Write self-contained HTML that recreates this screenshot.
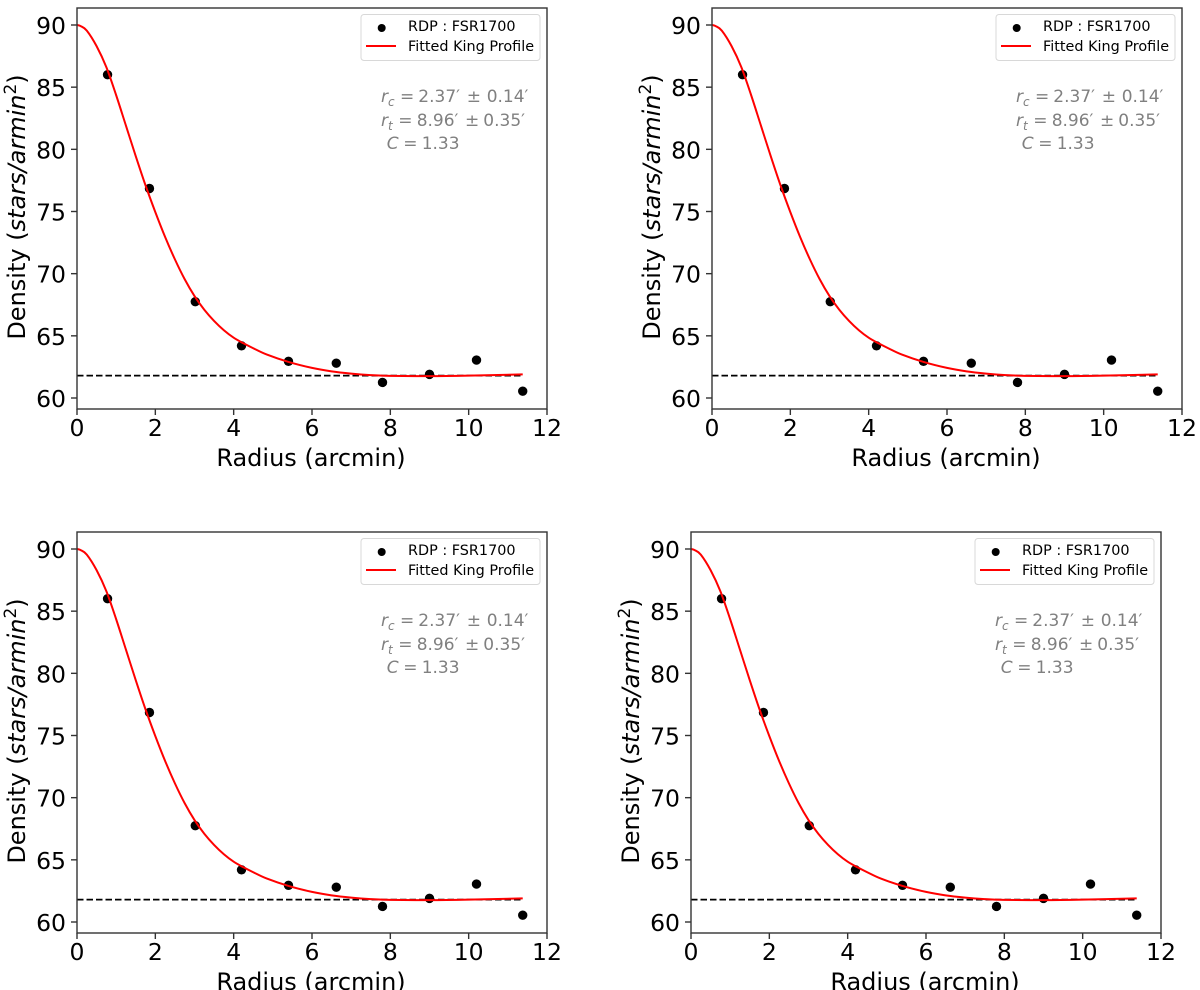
<!DOCTYPE html>
<html>
<head>
<meta charset="utf-8">
<style>
html,body{margin:0;padding:0;background:#fff;width:1200px;height:990px;overflow:hidden}
svg{display:block}
text{font-family:"DejaVu Sans","Liberation Sans",sans-serif}
</style>
</head>
<body>
<svg id="figure" xmlns="http://www.w3.org/2000/svg" width="1200" height="990" viewBox="0 0 1200 990"></svg>
<script>
const radiusPoints = [0.78, 1.85, 3.02, 4.2, 5.4, 6.62, 7.8, 9.0, 10.2, 11.38];
const densityPoints = [86.0, 76.85, 67.75, 64.2, 62.95, 62.8, 61.25, 61.9, 63.05, 60.55];
const fitRadius = [0, 0.1, 0.25, 0.5, 0.75, 1.0, 1.25, 1.5, 1.75, 2.0, 2.25, 2.5, 2.75, 3.0, 3.25, 3.5, 3.75, 4.0, 4.25, 4.5, 4.84, 5.4, 6.0, 6.5, 7.0, 7.5, 8.0, 9.0, 10.0, 11.38];
const fitDensity = [90, 89.9, 89.55, 88.3, 86.6, 84.35, 81.9, 79.45, 77.1, 74.95, 72.95, 71.15, 69.55, 68.2, 67.1, 66.2, 65.45, 64.85, 64.4, 64.0, 63.5, 62.9, 62.42, 62.14, 61.96, 61.84, 61.78, 61.76, 61.8, 61.9];
const backgroundDensity = 61.8;
const backgroundRange = [0, 11.4];
const xTicks = [0, 2, 4, 6, 8, 10, 12];
const yTicks = [60, 65, 70, 75, 80, 85, 90];
const xDomain = [0, 12];
const yAnchor = [60, 90];
const legendLabels = ['RDP : FSR1700', 'Fitted King Profile'];
const panelNames = ['top-left', 'top-right', 'bottom-left', 'bottom-right'];

const panelLeft = [77, 712, 77, 691];
const panelTop = [8, 8, 532, 532];
const PW = 470, PH = 401;
const Y60 = 390, Y90 = 17;   // offset from panel top
const NS = 'http://www.w3.org/2000/svg';
const svg = document.getElementById('figure');

function mk(tag, attrs, parent, txt) {
  const e = document.createElementNS(NS, tag);
  for (const k in attrs) e.setAttribute(k, attrs[k]);
  if (txt !== undefined) e.textContent = txt;
  parent.appendChild(e);
  return e;
}

function drawPanel(i) {
  const L = panelLeft[i], T = panelTop[i];
  const X = v => L + (v - xDomain[0]) / (xDomain[1] - xDomain[0]) * PW;
  const Y = v => T + Y60 + (v - yAnchor[0]) / (yAnchor[1] - yAnchor[0]) * (Y90 - Y60);

  const g = mk('g', {}, svg);
  
  

  // x ticks
  xTicks.forEach(t => {
    const tick = mk('line', {x1: X(t), x2: X(t), y1: T + PH, y2: T + PH + 6, stroke: '#333', 'stroke-width': 1.4}, g);
    
    
    const lab = mk('text', {x: X(t), y: T + 428, 'text-anchor': 'middle', 'font-size': 23.5, fill: '#000'}, g, String(t));
    
    
  });
  // y ticks
  yTicks.forEach(t => {
    const tick = mk('line', {x1: L - 6, x2: L, y1: Y(t), y2: Y(t), stroke: '#333', 'stroke-width': 1.4}, g);
    
    
    const lab = mk('text', {x: L - 11, y: Y(t) + 9, 'text-anchor': 'end', 'font-size': 23.5, fill: '#000'}, g, String(t));
    
    
  });

  // background dashed line
  const bg = mk('line', {x1: X(backgroundRange[0]), x2: X(backgroundRange[1]), y1: Y(backgroundDensity), y2: Y(backgroundDensity), stroke: '#000', 'stroke-width': 1.8, 'stroke-dasharray': '6.5 3'}, g);
  
  

  // points
  radiusPoints.forEach((r, k) => {
    const c = mk('circle', {cx: X(r), cy: Y(densityPoints[k]), r: 4.7, fill: '#000'}, g);
    
    
  });

  // fit curve
  const pts = fitRadius.map((r, k) => [X(r), Y(fitDensity[k])]);
  let d = 'M' + pts[0][0].toFixed(2) + ' ' + pts[0][1].toFixed(2);
  for (let k = 0; k < pts.length - 1; k++) {
    const p0 = pts[Math.max(k - 1, 0)], p1 = pts[k], p2 = pts[k + 1], p3 = pts[Math.min(k + 2, pts.length - 1)];
    const c1x = p1[0] + (p2[0] - p0[0]) / 6, c1y = p1[1] + (p2[1] - p0[1]) / 6;
    const c2x = p2[0] - (p3[0] - p1[0]) / 6, c2y = p2[1] - (p3[1] - p1[1]) / 6;
    d += 'C' + c1x.toFixed(2) + ' ' + c1y.toFixed(2) + ' ' + c2x.toFixed(2) + ' ' + c2y.toFixed(2) + ' ' + p2[0].toFixed(2) + ' ' + p2[1].toFixed(2);
  }
  const curve = mk('path', {d: d, fill: 'none', stroke: '#f00', 'stroke-width': 2}, g);
  
  

  // frame
  const frame = mk('rect', {x: L, y: T, width: PW, height: PH, fill: 'none', stroke: '#333', 'stroke-width': 1.4}, g);
  
  

  // axis titles
  const xt = mk('text', {x: L + 234, y: T + 458, 'text-anchor': 'middle', 'font-size': 24, fill: '#000'}, g, 'Radius (arcmin)');
  
  

  const yx = L - 52, yy = T + 199;
  const yt = mk('text', {x: yx, y: yy, transform: 'rotate(-90 ' + yx + ' ' + yy + ')', 'text-anchor': 'middle', 'font-size': 24, fill: '#000'}, g);
  
  
  mk('tspan', {}, yt, 'Density (');
  mk('tspan', {'font-style': 'italic'}, yt, 'stars/armin');
  mk('tspan', {'font-size': 17, dy: -9}, yt, '2');
  mk('tspan', {dy: 9}, yt, ')');

  // legend
  const leg = mk('g', {}, g);
  
  
  mk('rect', {x: L + 284, y: T + 6.5, width: 179, height: 46, rx: 3, fill: '#fff', stroke: '#d8d8d8', 'stroke-width': 1}, leg);
  const lm = mk('circle', {cx: L + 304.7, cy: T + 20, r: 4, fill: '#000'}, leg);
  
  
  const ll = mk('line', {x1: L + 289, x2: L + 319, y1: T + 38, y2: T + 38, stroke: '#f00', 'stroke-width': 1.9}, leg);
  
  
  legendLabels.forEach((s, k) => {
    const t = mk('text', {x: L + 331, y: T + 23 + k * 20, 'font-size': 14.4, fill: '#000'}, leg, s);
    
    
  });

  // annotation
  const an = mk('g', {fill: '#808080', 'font-size': 17}, g);
  
  
  const A = L + 304;
  const rc = mk('text', {x: A, y: T + 94}, an);
  mk('tspan', {'font-style': 'italic'}, rc, 'r');
  mk('tspan', {'font-style': 'italic', 'font-size': 12, dy: 4}, rc, 'c');
  mk('tspan', {x: A + 19, dy: -4}, rc, '=');
  mk('tspan', {x: A + 37.3}, rc, '2.37\u2032');
  mk('tspan', {x: A + 85.7}, rc, '\u00b1');
  mk('tspan', {x: A + 105.7}, rc, '0.14\u2032');
  const rt = mk('text', {x: A, y: T + 118}, an);
  mk('tspan', {'font-style': 'italic'}, rt, 'r');
  mk('tspan', {'font-style': 'italic', 'font-size': 12, dy: 4}, rt, 't');
  mk('tspan', {x: A + 17.3, dy: -4}, rt, '=');
  mk('tspan', {x: A + 35.7}, rt, '8.96\u2032');
  mk('tspan', {x: A + 84}, rt, '\u00b1');
  mk('tspan', {x: A + 102.3}, rt, '0.35\u2032');
  const cc = mk('text', {x: A + 5.7, y: T + 141}, an);
  mk('tspan', {'font-style': 'italic'}, cc, 'C');
  mk('tspan', {x: A + 22.3}, cc, '=');
  mk('tspan', {x: A + 40.7}, cc, '1.33');
}

panelLeft.forEach((_, i) => drawPanel(i));
</script>
</body>
</html>
